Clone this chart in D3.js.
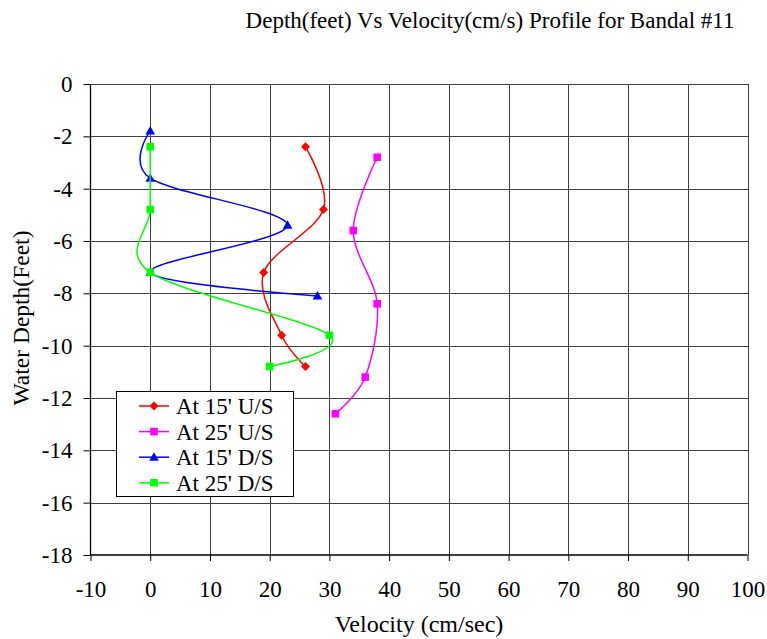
<!DOCTYPE html>
<html>
<head>
<meta charset="utf-8">
<script src="https://cdn.jsdelivr.net/npm/d3@7"></script>
<style>
  html, body { margin: 0; padding: 0; background: #fff; }
  svg { display: block; }
</style>
</head>
<body>
<svg id="chart" width="767" height="639"></svg>
<script>
// ---- data ----
const seriesNames = ["At 15' U/S", "At 25' U/S", "At 15' D/S", "At 25' D/S"];
const seriesColors = ["#FF0000", "#FF00FF", "#0000FF", "#00FF00"];
const seriesMarkers = ["diamond", "square", "triangle", "square"];

const vel15US = [26, 29, 19, 22, 26];
const depth15US = [-2.4, -4.8, -7.2, -9.6, -10.8];

const vel25US = [38, 34, 38, 36, 31];
const depth25US = [-2.8, -5.6, -8.4, -11.2, -12.6];

const vel15DS = [0, 0, 23, 0, 28];
const depth15DS = [-1.8, -3.6, -5.4, -7.2, -8.1];

const vel25DS = [0, 0, 0, 30, 20];
const depth25DS = [-2.4, -4.8, -7.2, -9.6, -10.8];

const xTicks = [-10, 0, 10, 20, 30, 40, 50, 60, 70, 80, 90, 100];
const yTicks = [0, -2, -4, -6, -8, -10, -12, -14, -16, -18];

const titleText = "Depth(feet) Vs Velocity(cm/s) Profile for Bandal #11";
const xTitle = "Velocity (cm/sec)";
const yTitle = "Water Depth(Feet)";

const FONT = "'Liberation Serif', 'Times New Roman', Times, 'DejaVu Serif', serif";

// ---- layout ----
const svg = d3.select("#chart");
const L = 90.5, R = 747.5, T = 84, B = 555;
const x = d3.scaleLinear().domain([-10, 100]).range([L, R]);
const y = d3.scaleLinear().domain([-18, 0]).range([B, T]);

// gridlines
const grid = svg.append("g").attr("shape-rendering", "crispEdges");
grid.selectAll("line.v").data(xTicks.slice(1)).enter().append("line")
  .attr("x1", d => Math.round(x(d)) + 0.5).attr("x2", d => Math.round(x(d)) + 0.5)
  .attr("y1", T).attr("y2", B).attr("stroke", "#404040").attr("stroke-width", 1);
grid.selectAll("line.h").data(yTicks.slice(0, -1)).enter().append("line")
  .attr("y1", d => Math.round(y(d)) + 0.5).attr("y2", d => Math.round(y(d)) + 0.5)
  .attr("x1", L).attr("x2", R).attr("stroke", "#404040").attr("stroke-width", 1);

// axes
const fmt = d => String(d);
const xAxis = d3.axisBottom(x).tickValues(xTicks).tickSize(6).tickPadding(20).tickFormat(fmt);
const yAxis = d3.axisLeft(y).tickValues(yTicks).tickSize(7).tickPadding(11).tickFormat(fmt);

const gx = svg.append("g").attr("transform", `translate(0,${B})`).call(xAxis);
const gy = svg.append("g").attr("transform", `translate(${L},0)`).call(yAxis);
[gx, gy].forEach(g => {
  g.attr("font-family", FONT).attr("font-size", 23);
  g.select(".domain").attr("stroke", "#000").attr("stroke-width", 1.3);
  g.selectAll(".tick line").attr("stroke", "#000");
  g.selectAll(".tick text").attr("font-family", FONT).attr("font-size", 23).attr("fill", "#000");
});
gx.select(".domain").attr("d", `M${L},0H${R}`);
gy.select(".domain").attr("d", `M0,${T}V${B}`);

// titles
svg.append("text").attr("x", 490).attr("y", 28).attr("text-anchor", "middle")
  .attr("font-family", FONT).attr("font-size", 23).attr("fill", "#000").text(titleText);
svg.append("text").attr("x", 419).attr("y", 632).attr("text-anchor", "middle")
  .attr("font-family", FONT).attr("font-size", 24).attr("fill", "#000").text(xTitle);
svg.append("text").attr("transform", "translate(29,318) rotate(-90)").attr("text-anchor", "middle")
  .attr("font-family", FONT).attr("font-size", 23.5).attr("fill", "#000").text(yTitle);

// series
const seriesVel = [vel15US, vel25US, vel15DS, vel25DS];
const seriesDepth = [depth15US, depth25US, depth15DS, depth25DS];

const line = d3.line().x(d => x(d[0])).y(d => y(d[1])).curve(d3.curveCardinal.tension(0));

function marker(g, type, cx, cy, color) {
  if (type === "diamond") {
    g.append("path").attr("d", `M${cx},${cy-4.5}L${cx+4.5},${cy}L${cx},${cy+4.5}L${cx-4.5},${cy}Z`).attr("fill", color);
  } else if (type === "square") {
    g.append("rect").attr("x", cx - 3.8).attr("y", cy - 3.8).attr("width", 7.6).attr("height", 7.6).attr("fill", color);
  } else if (type === "triangle") {
    g.append("path").attr("d", `M${cx},${cy-5}L${cx+4.8},${cy+3.5}L${cx-4.8},${cy+3.5}Z`).attr("fill", color);
  }
}

seriesVel.forEach((vals, i) => {
  const pts = vals.map((v, j) => [v, seriesDepth[i][j]]);
  const g = svg.append("g");
  g.append("path").attr("d", line(pts)).attr("fill", "none")
    .attr("stroke", seriesColors[i]).attr("stroke-width", 1.5);
  pts.forEach(p => marker(g, seriesMarkers[i], x(p[0]), y(p[1]), seriesColors[i]));
});

// legend
const lg = svg.append("g");
lg.append("rect").attr("x", 116.5).attr("y", 391.5).attr("width", 177).attr("height", 105)
  .attr("fill", "#fff").attr("stroke", "#000").attr("stroke-width", 1);
seriesNames.forEach((name, i) => {
  const cy = 406 + i * 25.6;
  lg.append("line").attr("x1", 139).attr("x2", 169).attr("y1", cy).attr("y2", cy)
    .attr("stroke", seriesColors[i]).attr("stroke-width", 1.5);
  marker(lg, seriesMarkers[i], 154, cy, seriesColors[i]);
  lg.append("text").attr("x", 176).attr("y", cy + 8)
    .attr("font-family", FONT).attr("font-size", 23).attr("fill", "#000").text(name);
});
</script>
</body>
</html>
